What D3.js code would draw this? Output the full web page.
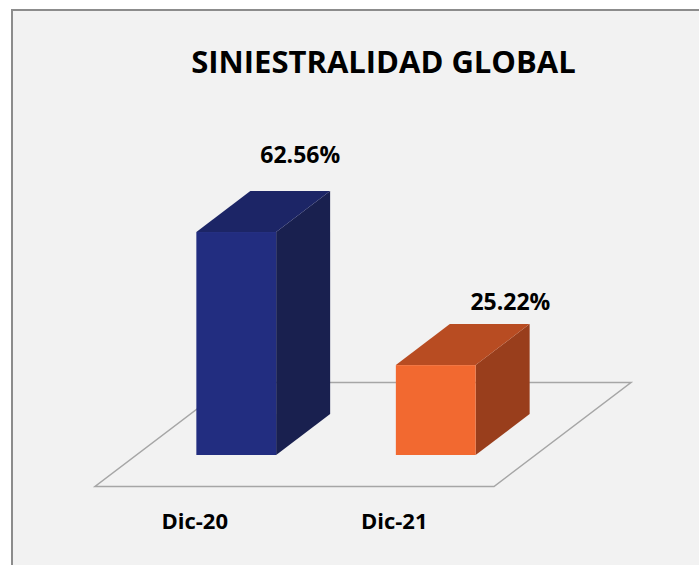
<!DOCTYPE html>
<html>
<head>
<meta charset="utf-8">
<script src="https://cdn.jsdelivr.net/npm/d3@7"></script>
<style>
    html, body { margin: 0; padding: 0; background: #ffffff; overflow: hidden; }
    text { font-family: "Open Sans", "Noto Sans", sans-serif; font-weight: bold; fill: #000; }
</style>
</head>
<body>
<div id="chart"></div>
<script>
// Siniestralidad global - 3D column chart
const categories = ["Dic-20", "Dic-21"];
const values = [62.56, 25.22];
const valueLabels = ["62.56%", "25.22%"];
const chartTitle = "SINIESTRALIDAD GLOBAL";

const width = 699;
const height = 565;

// depth of each column (oblique projection)
const depthX = 54;
const depthY = 41;

const colors = [
    { front: "#222d80", top: "#1c2566", side: "#19204f" },
    { front: "#f26930", top: "#b84c22", side: "#993e1c" }
];

const svg = d3.select("#chart").append("svg")
    .attr("width", width)
    .attr("height", height);

// chart frame
svg.append("rect")
    .attr("x", 12)
    .attr("y", 10)
    .attr("width", width + 20)
    .attr("height", height + 20)
    .attr("fill", "#f2f2f2")
    .attr("stroke", "#8c8c8c")
    .attr("stroke-width", 2);

svg.append("text")
    .attr("x", 383.5)
    .attr("y", 73)
    .attr("text-anchor", "middle")
    .style("font-size", "31px")
    .text(chartTitle);

const x = d3.scaleBand()
    .domain(categories)
    .range([136.5, 535.5])
    .paddingInner(0.6)
    .paddingOuter(0.3);

const y = d3.scaleLinear()
    .domain([0, 70])
    .range([455, 205.5]);

const y0 = y(0);

// floor of the 3D plot
const [fx0, fx1] = x.range();
const front = { dx: -41.5, dy: 31.5 };
const back = { dx: 95.5, dy: -72.5 };
const floor = [
    [fx0 + front.dx, y0 + front.dy],
    [fx1 + front.dx, y0 + front.dy],
    [fx1 + back.dx, y0 + back.dy],
    [fx0 + back.dx, y0 + back.dy]
];

svg.append("path")
    .attr("d", d3.line()(floor) + "Z")
    .attr("fill", "none")
    .attr("stroke", "#a6a6a6")
    .attr("stroke-width", 1.5);

// columns
const bars = svg.selectAll("g.bar")
    .data(values)
    .enter()
    .append("g")
    .attr("class", "bar");

bars.each(function(v, i) {
    const g = d3.select(this);
    const x0 = x(categories[i]);
    const x1 = x0 + x.bandwidth();
    const yt = y(v);

    g.append("path")
        .attr("d", d3.line()([[x1, yt], [x1 + depthX, yt - depthY], [x1 + depthX, y0 - depthY], [x1, y0]]) + "Z")
        .attr("fill", colors[i].side);

    g.append("path")
        .attr("d", d3.line()([[x0, yt], [x0 + depthX, yt - depthY], [x1 + depthX, yt - depthY], [x1, yt]]) + "Z")
        .attr("fill", colors[i].top);

    g.append("rect")
        .attr("x", x0)
        .attr("y", yt)
        .attr("width", x.bandwidth())
        .attr("height", y0 - yt)
        .attr("fill", colors[i].front);
});

// data labels, placed like Excel's perspective view
svg.selectAll("text.value")
    .data(values)
    .enter()
    .append("text")
    .attr("class", "value")
    .attr("x", (d, i) => (x(categories[i]) + x.bandwidth() / 2) * 1.053 + 51.5)
    .attr("y", d => y(d) * 1.105 - 93.4)
    .attr("text-anchor", "middle")
    .style("font-size", "23px")
    .text((d, i) => valueLabels[i]);

// category labels on the front edge of the floor
svg.selectAll("text.cat")
    .data(categories)
    .enter()
    .append("text")
    .attr("class", "cat")
    .attr("x", d => x(d) + x.bandwidth() / 2 + front.dx)
    .attr("y", y0 + 74)
    .attr("text-anchor", "middle")
    .style("font-size", "22px")
    .text(d => d);
</script>
</body>
</html>
